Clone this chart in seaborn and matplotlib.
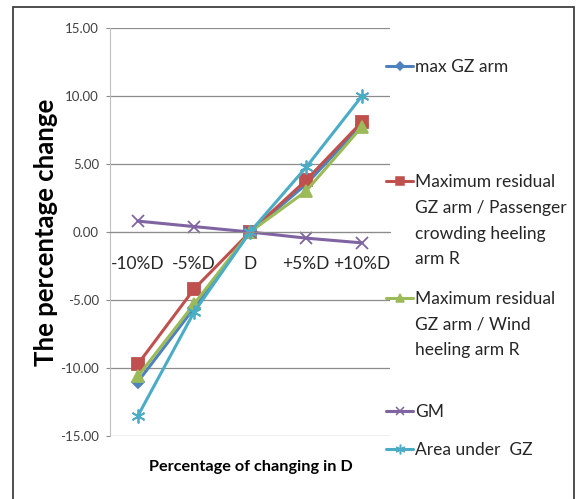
import matplotlib
matplotlib.use("Agg")
import matplotlib.pyplot as plt
from matplotlib.lines import Line2D
from matplotlib.patches import Rectangle
import seaborn as sns
import pandas as pd

sns.set_style("white")
plt.rcParams["font.family"] = ["Lato", "DejaVu Sans"]

categories = ["-10%D", "-5%D", "D", "+5%D", "+10%D"]
max_gz_arm = [-11.0, -5.6, 0.0, 3.5, 7.9]
resid_passenger = [-9.7, -4.2, 0.0, 3.8, 8.1]
resid_wind = [-10.6, -5.3, 0.0, 3.0, 7.75]
gm = [0.8, 0.4, 0.0, -0.45, -0.8]
area_under_gz = [-13.5, -5.9, 0.0, 4.75, 10.0]

series_names = [
    "max GZ arm",
    "Maximum residual\nGZ arm / Passenger\ncrowding heeling\narm R",
    "Maximum residual\nGZ arm / Wind\nheeling arm R",
    "GM",
    "Area under  GZ",
]
series_values = [max_gz_arm, resid_passenger, resid_wind, gm, area_under_gz]
colors = ["#4F81BD", "#C0504D", "#9BBB59", "#8064A2", "#4BACC6"]
markers = ["D", "s", "^", "x", (6, 2, 0)]
msizes = [6, 8, 8, 9, 10]

fig = plt.figure(figsize=(5.76, 4.99), dpi=100)
ax = fig.add_axes([110 / 576, 1 - 436 / 499, 280 / 576, 408 / 499])

for name, vals, c, m, ms in zip(series_names, series_values, colors, markers, msizes):
    df = pd.DataFrame({"cat": categories, "val": vals})
    sns.lineplot(data=df, x="cat", y="val", ax=ax, color=c, marker=m,
                 markersize=ms, markeredgecolor=c, markerfacecolor=c,
                 markeredgewidth=1.3, linewidth=2.2, sort=False)

ax.set_xlim(-0.5, 4.5)
ax.set_ylim(-15, 15)
ax.set_yticks([-15, -10, -5, 0, 5, 10, 15])
ax.set_yticklabels([f"{v:.2f}" for v in [-15, -10, -5, 0, 5, 10, 15]])
ax.yaxis.grid(True, color="#8C8C8C", linewidth=0.9)
ax.set_axisbelow(True)
for s in ["top", "right"]:
    ax.spines[s].set_visible(False)
ax.spines["left"].set_color("#BFBFBF")
ax.spines["bottom"].set_position(("data", 0))
ax.spines["bottom"].set_color("#8C8C8C")
ax.tick_params(axis="y", length=3, color="#8C8C8C", labelsize=9.5,
               labelcolor="#404040", pad=5, left=True)
ax.tick_params(axis="x", length=0, labelsize=12.5, labelcolor="#262626", pad=17)
ax.set_xlabel("")
ax.set_ylabel("")

fig.text(46 / 576, 1 - 232 / 499, "The percentage change", rotation=90,
         ha="center", va="center", fontsize=18.5, fontweight="bold", color="black")
fig.text(251 / 576, 1 - 467 / 499, "Percentage of changing in D",
         ha="center", va="center", fontsize=11.7, fontweight="bold", color="black")

# legend drawn at the right of the plot area
legend_y = [66, 181, 298, 411, 449]
for name, c, m, ms, y in zip(series_names, colors, markers, msizes, legend_y):
    yf = 1 - y / 499
    fig.add_artist(Line2D([386 / 576, 413 / 576], [yf, yf], transform=fig.transFigure,
                          color=c, linewidth=2.2))
    fig.add_artist(Line2D([399.5 / 576], [yf], transform=fig.transFigure, color=c,
                          marker=m, markersize=ms * 0.7, markeredgecolor=c,
                          markerfacecolor=c, markeredgewidth=1.1, linestyle="none"))
    fig.text(415 / 576, yf + 7 / 499, name, ha="left", va="top", fontsize=12.5,
             color="#262626", linespacing=1.75)

# outer chart border
fig.add_artist(Rectangle((13 / 576, -0.05), (574 - 13) / 576, 1.05 - 7 / 499,
                         transform=fig.transFigure, fill=False,
                         edgecolor="#404040", linewidth=1.3))

fig.savefig("out.png", dpi=100)
